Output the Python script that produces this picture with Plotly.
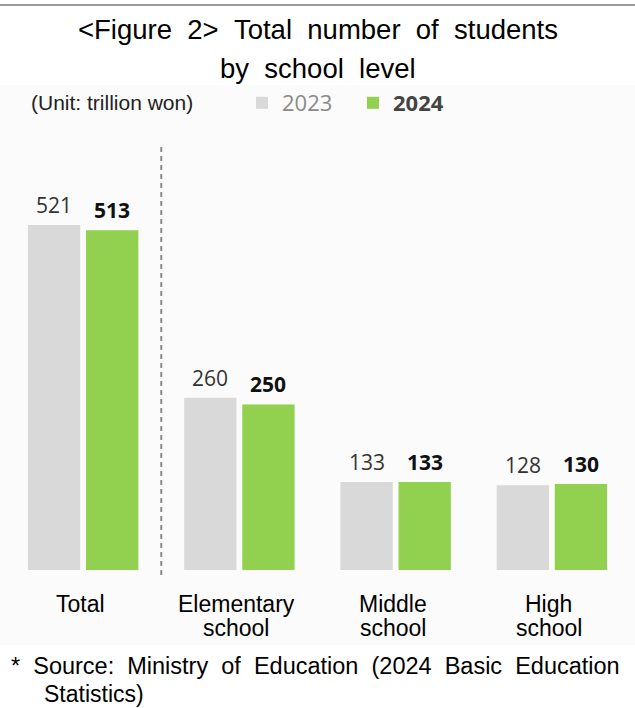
import plotly.graph_objects as go

# ---------------- data ----------------
categories = ["Total", "Elementary school", "Middle school", "High school"]
category_lines = [["Total"], ["Elementary", "school"], ["Middle", "school"], ["High", "school"]]
series_names = ["2023", "2024"]
values_2023 = [521, 260, 133, 128]
values_2024 = [513, 250, 133, 130]
title_lines = ["<Figure 2> Total number of students", "by school level"]
unit_text = "(Unit: trillion won)"
source_lines = ["* Source: Ministry of Education (2024 Basic Education", "Statistics)"]

# ---------------- layout helpers ----------------
FW, FH = 635, 708
ML, MR, MT, MB = 5, 5, 150, 138
PW, PH = FW - ML - MR, FH - MT - MB


def px_x(px):
    return (px - ML) / PW


def px_y(py):
    return (FH - MB - py) / PH


def wide(s):
    return s.replace(" ", "\u00a0\u00a0")


GRAY = "#d9d9d9"
GREEN = "#92d050"
SANS = "Liberation Sans, Arial, sans-serif"
NUM = "Open Sans, sans-serif"

fig = go.Figure()
fig.add_trace(go.Bar(x=categories, y=values_2023,
                     name=f"<span style='color:#8a8a8a'>{series_names[0]}</span>",
                     marker=dict(color=GRAY, line=dict(width=0)), hoverinfo="x+y"))
fig.add_trace(go.Bar(x=categories, y=values_2024, name=f"<b>{series_names[1]}</b>",
                     marker=dict(color=GREEN, line=dict(width=0)), hoverinfo="x+y"))

annotations = []
slot = PW / len(categories) * (1 - 0.256) / 2
for cat, v in zip(categories, values_2023):
    annotations.append(dict(x=cat, y=v, xref="x", yref="y", text=str(v), showarrow=False,
                            xshift=-slot / 2, yshift=20, yanchor="middle",
                            font=dict(family=NUM, size=21, color="#333333")))
for cat, v in zip(categories, values_2024):
    annotations.append(dict(x=cat, y=v, xref="x", yref="y", text=f"<b>{v}</b>", showarrow=False,
                            xshift=slot / 2, yshift=20, yanchor="middle",
                            font=dict(family=NUM, size=21, color="#111111")))

# category labels (two tight lines)
for cat, lines in zip(categories, category_lines):
    for k, line in enumerate(lines):
        annotations.append(dict(x=cat, y=px_y(604 + 24 * k), xref="x", yref="paper", text=line,
                                showarrow=False, yanchor="middle", xshift=-3,
                                font=dict(family=SANS, size=23, color="#000000")))

# title
for k, line in enumerate(title_lines):
    annotations.append(dict(x=0.5, y=px_y(30 + 38 * k), xref="paper", yref="paper",
                            text=wide(line), showarrow=False,
                            yanchor="middle", xanchor="center",
                            font=dict(family=SANS, size=27.5, color="#000000")))

# unit
annotations.append(dict(x=px_x(29), y=px_y(103), xref="paper", yref="paper", text=unit_text,
                        showarrow=False, xanchor="left", yanchor="middle",
                        font=dict(family=SANS, size=21, color="#222222")))

# source
annotations.append(dict(x=px_x(9), y=px_y(666), xref="paper", yref="paper",
                        text=wide(source_lines[0]), showarrow=False,
                        xanchor="left", yanchor="middle",
                        font=dict(family=SANS, size=23.5, color="#000000")))
annotations.append(dict(x=px_x(42), y=px_y(694), xref="paper", yref="paper",
                        text=source_lines[1], showarrow=False,
                        xanchor="left", yanchor="middle",
                        font=dict(family=SANS, size=23, color="#000000")))

shapes = [
    # light panel background
    dict(type="rect", xref="paper", yref="paper", x0=px_x(0), x1=px_x(FW), y0=px_y(645), y1=px_y(85),
         fillcolor="#fbfbfb", line=dict(width=0), layer="below"),
    # top rule
    dict(type="line", xref="paper", yref="paper", x0=px_x(0), x1=px_x(FW), y0=px_y(5), y1=px_y(5),
         line=dict(color="#9a9a9a", width=2)),
    # dashed separator between Total and the school levels
    dict(type="line", xref="x", yref="paper", x0=0.5, x1=0.5, y0=px_y(575), y1=px_y(145),
         line=dict(color="#8c8c8c", width=2, dash="5px,4px")),
]

fig.update_layout(
    width=FW, height=FH,
    margin=dict(l=ML, r=MR, t=MT, b=MB, pad=0),
    paper_bgcolor="white", plot_bgcolor="rgba(0,0,0,0)",
    barmode="group", bargap=0.256, bargroupgap=0.1,
    showlegend=True,
    legend=dict(orientation="h", x=px_x(242), y=px_y(103), xanchor="left", yanchor="middle",
                font=dict(family=NUM, size=22, color="#444444"), bgcolor="rgba(0,0,0,0)",
                itemwidth=30, entrywidth=66, traceorder="normal"),
    xaxis=dict(range=[-0.5, 3.5], showticklabels=False, showgrid=False, zeroline=False,
               showline=False, ticks=""),
    yaxis=dict(range=[0, PH / (345 / 521)], showticklabels=False, showgrid=False, zeroline=False,
               showline=False, ticks=""),
    annotations=annotations, shapes=shapes,
)

fig.write_html("out.html", config={"displayModeBar": False},
               post_script="document.body.style.margin='0px';")
